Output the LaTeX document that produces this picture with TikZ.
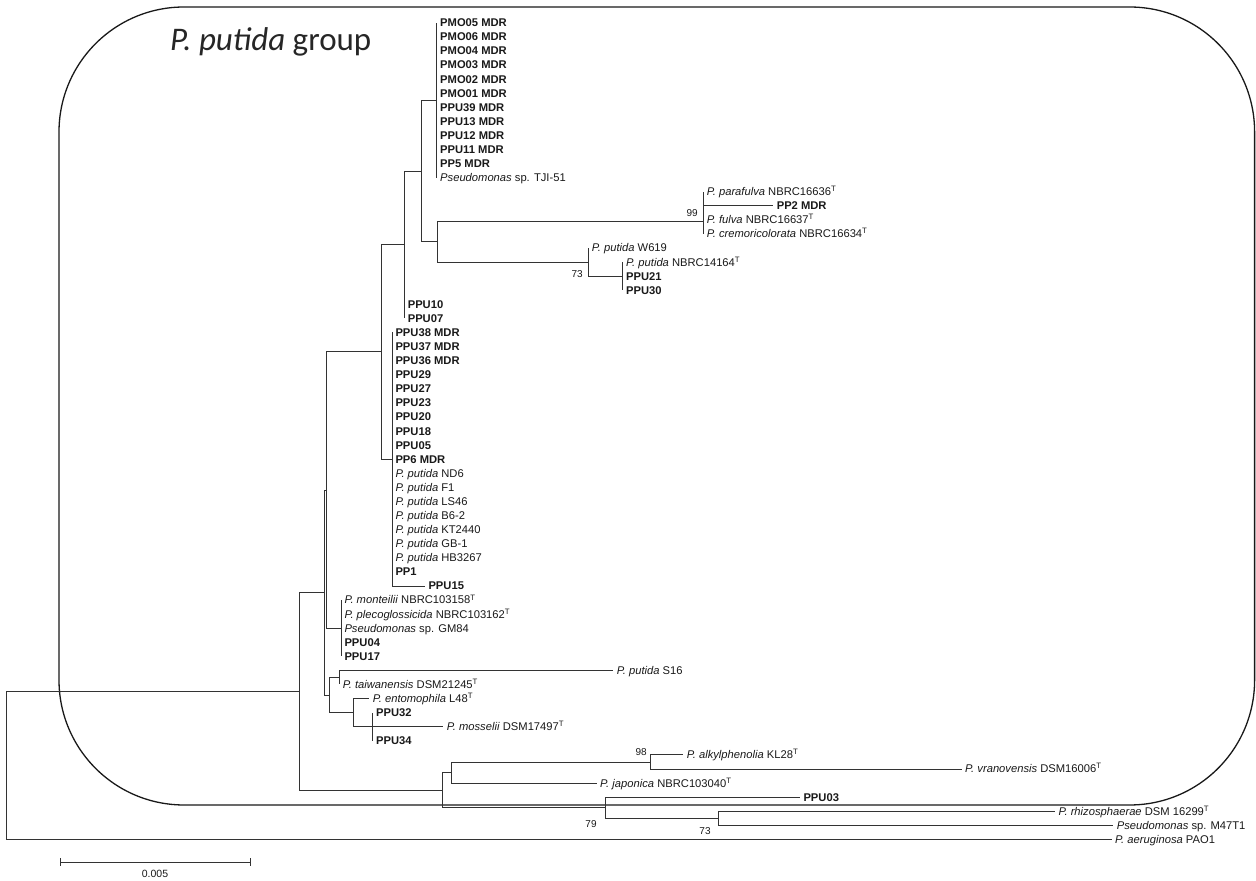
\documentclass[tikz,border=0pt]{standalone}
\usepackage{fontspec}
\setmainfont{Liberation Sans}
\newfontfamily\titlefont{Carlito}

\newcommand{\typ}{\textsuperscript{T}}
\newcommand{\leaffont}{\fontsize{11.2}{13}\selectfont}
\newcommand{\bootfont}{\fontsize{10}{12}\selectfont}

\tikzset{
  branch/.style={draw=black!80, line width=0.8pt},
  leaf/.style={anchor=west, inner xsep=3.5pt, inner ysep=0pt, outer sep=0pt,
    text height=8pt, text depth=0pt, font=\leaffont, text=black!90},
  boot/.style={inner sep=0pt, font=\bootfont, text=black!90},
  groupbox/.style={draw=black!90, line width=1.3pt, rounded corners=125pt},
}

\begin{document}
\begin{tikzpicture}[x=1pt,y=-14.08pt]
\useasboundingbox (0,-0.612) rectangle (1256,61.89);

% group frame
\draw[groupbox] (59,-0.115) rectangle (1254.6,56.56);
\node[anchor=base west, inner sep=0pt, font=\titlefont\fontsize{33}{35}\selectfont, text=black!85]
  (title) at (170,2.94) {\textit{P. putida} group};

% inner nodes
\coordinate (R) at (6,53.745);
\coordinate (F) at (299.3,48.49);
\coordinate (G) at (324.3,41.47);
\coordinate (E) at (326.5,34.19);
\coordinate (C) at (381,24.38);
\coordinate (B) at (404.3,16.76);
\coordinate (A) at (421.7,11.53);
\coordinate (M) at (436.7,6.5);
\coordinate (N) at (437.7,16.55);
\coordinate (O) at (703.3,15.1);
\coordinate (P) at (588.3,18);
\coordinate (Q) at (622.7,19);
\coordinate (D) at (392,32);
\coordinate (L) at (341,44);
\coordinate (H) at (329.3,48.75);
\coordinate (I) at (339.3,47.5);
\coordinate (J) at (353.3,50);
\coordinate (K) at (372.7,51);
\coordinate (S) at (442,55.5);
\coordinate (T) at (451.7,54.25);
\coordinate (V) at (650.7,53.5);
\coordinate (U) at (605,56.75);
\coordinate (W) at (718.3,57.5);

% leaves
\node[leaf] (pmo05) at (436.7,1) {\textbf{PMO05 MDR}};
\node[leaf] (pmo06) at (436.7,2) {\textbf{PMO06 MDR}};
\node[leaf] (pmo04) at (436.7,3) {\textbf{PMO04 MDR}};
\node[leaf] (pmo03) at (436.7,4) {\textbf{PMO03 MDR}};
\node[leaf] (pmo02) at (436.7,5) {\textbf{PMO02 MDR}};
\node[leaf] (pmo01) at (436.7,6) {\textbf{PMO01 MDR}};
\node[leaf] (ppu39) at (436.7,7) {\textbf{PPU39 MDR}};
\node[leaf] (ppu13) at (436.7,8) {\textbf{PPU13 MDR}};
\node[leaf] (ppu12) at (436.7,9) {\textbf{PPU12 MDR}};
\node[leaf] (ppu11) at (436.7,10) {\textbf{PPU11 MDR}};
\node[leaf] (pp5) at (436.7,11) {\textbf{PP5 MDR}};
\node[leaf] (tji51) at (436.7,12) {\textit{Pseudomonas} sp. TJI-51};

\node[leaf] (parafulva) at (703.3,13) {\textit{P. parafulva} NBRC16636\typ};
\node[leaf] (pp2) at (773.3,14) {\textbf{PP2 MDR}};
\node[leaf] (fulva) at (703.3,15) {\textit{P. fulva} NBRC16637\typ};
\node[leaf] (cremor) at (703.3,16) {\textit{P. cremoricolorata} NBRC16634\typ};
\node[leaf] (w619) at (588.3,17) {\textit{P. putida} W619};
\node[leaf] (nbrc14164) at (622.7,18) {\textit{P. putida} NBRC14164\typ};
\node[leaf] (ppu21) at (622.7,19) {\textbf{PPU21}};
\node[leaf] (ppu30) at (622.7,20) {\textbf{PPU30}};

\node[leaf] (ppu10) at (404.3,21) {\textbf{PPU10}};
\node[leaf] (ppu07) at (404.3,22) {\textbf{PPU07}};

\node[leaf] (ppu38) at (392,23) {\textbf{PPU38 MDR}};
\node[leaf] (ppu37) at (392,24) {\textbf{PPU37 MDR}};
\node[leaf] (ppu36) at (392,25) {\textbf{PPU36 MDR}};
\node[leaf] (ppu29) at (392,26) {\textbf{PPU29}};
\node[leaf] (ppu27) at (392,27) {\textbf{PPU27}};
\node[leaf] (ppu23) at (392,28) {\textbf{PPU23}};
\node[leaf] (ppu20) at (392,29) {\textbf{PPU20}};
\node[leaf] (ppu18) at (392,30) {\textbf{PPU18}};
\node[leaf] (ppu05) at (392,31) {\textbf{PPU05}};
\node[leaf] (pp6) at (392,32) {\textbf{PP6 MDR}};
\node[leaf] (nd6) at (392,33) {\textit{P. putida} ND6};
\node[leaf] (f1) at (392,34) {\textit{P. putida} F1};
\node[leaf] (ls46) at (392,35) {\textit{P. putida} LS46};
\node[leaf] (b62) at (392,36) {\textit{P. putida} B6-2};
\node[leaf] (kt2440) at (392,37) {\textit{P. putida} KT2440};
\node[leaf] (gb1) at (392,38) {\textit{P. putida} GB-1};
\node[leaf] (hb3267) at (392,39) {\textit{P. putida} HB3267};
\node[leaf] (pp1) at (392,40) {\textbf{PP1}};
\node[leaf] (ppu15) at (425,41) {\textbf{PPU15}};

\node[leaf] (monteilii) at (341,42) {\textit{P. monteilii} NBRC103158\typ};
\node[leaf] (plecog) at (341,43) {\textit{P. plecoglossicida} NBRC103162\typ};
\node[leaf] (gm84) at (341,44) {\textit{Pseudomonas} sp. GM84};
\node[leaf] (ppu04) at (341,45) {\textbf{PPU04}};
\node[leaf] (ppu17) at (341,46) {\textbf{PPU17}};

\node[leaf] (s16) at (613.3,47) {\textit{P. putida} S16};
\node[leaf] (taiwan) at (339.3,48) {\textit{P. taiwanensis} DSM21245\typ};
\node[leaf] (entomo) at (369.3,49) {\textit{P. entomophila} L48\typ};
\node[leaf] (ppu32) at (372.7,50) {\textbf{PPU32}};
\node[leaf] (mosselii) at (443.3,51) {\textit{P. mosselii} DSM17497\typ};
\node[leaf] (ppu34) at (372.7,52) {\textbf{PPU34}};

\node[leaf] (alkyl) at (683.3,53) {\textit{P. alkylphenolia} KL28\typ};
\node[leaf] (vranov) at (961.7,54) {\textit{P. vranovensis} DSM16006\typ};
\node[leaf] (japonica) at (596.7,55) {\textit{P. japonica} NBRC103040\typ};
\node[leaf] (ppu03) at (800,56) {\textbf{PPU03}};
\node[leaf] (rhizo) at (1055,57) {\textit{P. rhizosphaerae} DSM 16299\typ};
\node[leaf] (m47t1) at (1113.3,58) {\textit{Pseudomonas} sp. M47T1};
\node[leaf] (aerug) at (1111.7,59) {\textit{P. aeruginosa} PAO1};

% branches
\draw[branch] (R) |- (F) (R) |- (aerug.west);
\draw[branch] (F) |- (G) (F) |- (S);
\draw[branch] (G) |- (E) (G) |- (H);
\draw[branch] (E) |- (C) (E) |- (L);
\draw[branch] (C) |- (B) (C) |- (D);
\draw[branch] (B) |- (A) (B) |- (ppu10.west) (B) |- (ppu07.west);
\draw[branch] (A) |- (M) (A) |- (N);
\draw[branch] (M) |- (pmo05.west) (M) |- (tji51.west);
\draw[branch] (N) |- (O) (N) |- (P);
\draw[branch] (O) |- (parafulva.west) (O) |- (pp2.west) (O) |- (cremor.west);
\draw[branch] (P) |- (w619.west) (P) |- (Q);
\draw[branch] (Q) |- (nbrc14164.west) (Q) |- (ppu30.west);
\draw[branch] (D) |- (ppu38.west) (D) |- (pp1.west) (D) |- (ppu15.west);
\draw[branch] (L) |- (monteilii.west) (L) |- (ppu17.west);
\draw[branch] (H) |- (I) (H) |- (J);
\draw[branch] (I) |- (s16.west) (I) |- (taiwan.west);
\draw[branch] (J) |- (entomo.west) (J) |- (K);
\draw[branch] (K) |- (ppu32.west) (K) |- (mosselii.west) (K) |- (ppu34.west);
\draw[branch] (S) |- (T) (S) |- (U);
\draw[branch] (T) |- (V) (T) |- (japonica.west);
\draw[branch] (V) |- (alkyl.west) (V) |- (vranov.west);
\draw[branch] (U) |- (ppu03.west) (U) |- (W);
\draw[branch] (W) |- (rhizo.west) (W) |- (m47t1.west);

% bootstrap values
\node[boot, anchor=east] (b99) at (698,14.5) {99};
\node[boot, anchor=east] (b73a) at (583,18.87) {73};
\node[boot, anchor=east] (b98) at (647,52.8) {98};
\node[boot] (b79) at (591,57.9) {79};
\node[boot] (b73b) at (705,58.4) {73};

% scale bar
\coordinate (sb0) at (60,60.61);
\coordinate (sb1) at (250,60.61);
\draw[branch] (sb0) -- (sb1);
\draw[branch] ([yshift=4pt]sb0) -- ([yshift=-4pt]sb0);
\draw[branch] ([yshift=4pt]sb1) -- ([yshift=-4pt]sb1);
\node[boot, font=\fontsize{10.5}{12}\selectfont] (sblabel) at (155,61.46) {0.005};

\end{tikzpicture}
\end{document}
